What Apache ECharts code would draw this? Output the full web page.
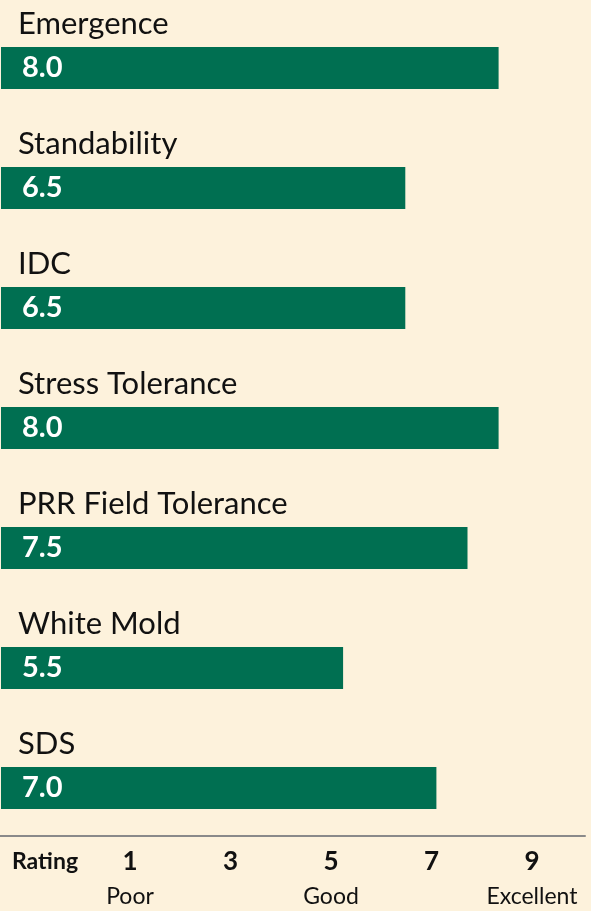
<!DOCTYPE html>
<html><head><meta charset="utf-8">
<script src="https://cdn.jsdelivr.net/npm/echarts@6/dist/echarts.min.js"></script>
<style>html,body{margin:0;padding:0;background:#fdf2dc;}#c{width:591px;height:911px;}</style>
</head><body><div id="c"></div>
<script>
const categories = ['Emergence','Standability','IDC','Stress Tolerance','PRR Field Tolerance','White Mold','SDS'];
const values = [8.0, 6.5, 6.5, 8.0, 7.5, 5.5, 7.0];
const ratingTicks = [1, 3, 5, 7, 9];
const ratingWords = ['Poor', '', 'Good', '', 'Excellent'];
const ratingTitle = 'Rating';

const FONT = 'Lato';
const chart = echarts.init(document.getElementById('c'), null, {renderer:'canvas'});
chart.setOption({
  backgroundColor: '#fdf2dc',
  animation: false,
  textStyle: {fontFamily: FONT},
  grid: [
    {left: 1, top: 8, width: 590, height: 840},
    {left: 0, top: 836, width: 585, height: 0}
  ],
  xAxis: [
    {type: 'value', gridIndex: 0, min: 0, max: 590/62.2, show: false},
    {type: 'value', gridIndex: 1, min: -79.75/50.25, max: (585-79.75)/50.25,
     position: 'bottom', splitLine: {show: false}, axisTick: {show: false},
     axisLine: {show: true, lineStyle: {color: '#8a8a8a', width: 2}},
     axisLabel: {
       show: true, customValues: ratingTicks, margin: 11,
       formatter: function (v) {
         const i = ratingTicks.indexOf(v);
         return '{n|' + v + '}\n{s|' + (i >= 0 ? ratingWords[i] : '') + '}';
       },
       rich: {
         n: {fontFamily: FONT, fontSize: 26, fontWeight: 'bold', color: '#111', lineHeight: 30},
         s: {fontFamily: FONT, fontSize: 23, color: '#111', lineHeight: 40}
       }
     }}
  ],
  yAxis: [
    {type: 'category', gridIndex: 0, data: categories, inverse: true, show: false},
    {type: 'value', gridIndex: 1, show: false}
  ],
  graphic: [
    {type: 'text', left: 12, top: 850, style: {text: ratingTitle, fontFamily: FONT, fontSize: 23, fontWeight: 'bold', fill: '#111'}}
  ],
  series: [{
    type: 'bar', xAxisIndex: 0, yAxisIndex: 0, data: values, barWidth: 42,
    itemStyle: {color: '#006f51'},
    label: {show: true, position: [17, -46], align: 'left', verticalAlign: 'top',
            formatter: p => '{name|' + p.name + '}\n{val|' + p.value.toFixed(1) + '}',
            rich: {
              name: {fontFamily: FONT, fontSize: 31, color: '#111', lineHeight: 46},
              val: {fontFamily: FONT, fontSize: 29, fontWeight: 'bold', color: '#fff', lineHeight: 42, padding: [0, 0, 0, 4]}
            }}
  }]
});
</script></body></html>
